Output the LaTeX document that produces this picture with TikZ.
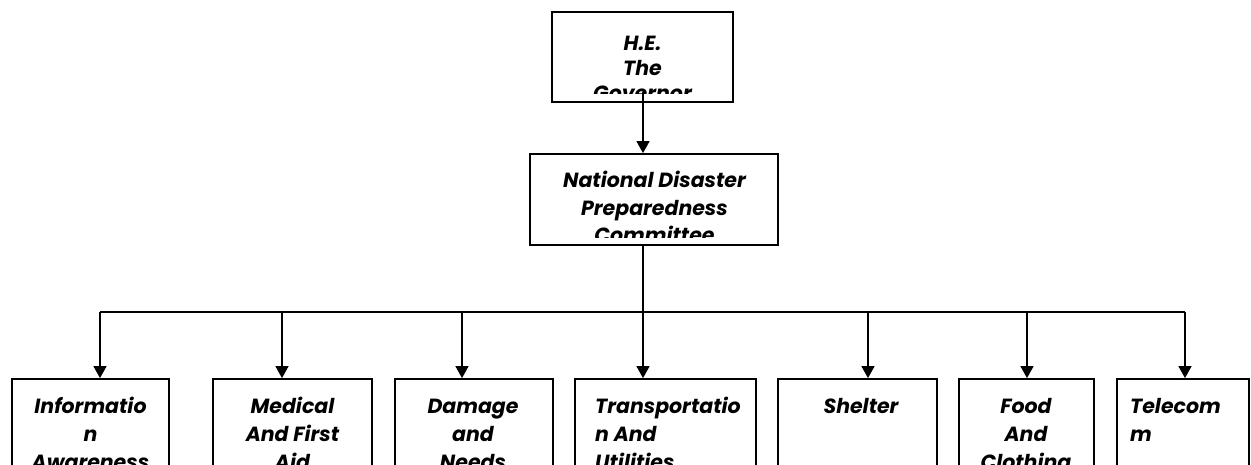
\documentclass[tikz,border=0pt]{standalone}
\usepackage{fontspec}
\setmainfont{Poppins}
\usetikzlibrary{arrows.meta}
\newcommand\firstln{\rule{0pt}{16pt}}
\tikzset{
  box/.style={draw=black, line width=1.8pt, inner sep=0pt, fill=none},
  lbl/.style={inner sep=0pt, font={\fontsize{20.5}{#1}\selectfont\bfseries\itshape}, text=black},
  lbl/.default=27.5,
  conn/.style={draw=black, line width=1.5pt},
  arr/.style={conn, -{Triangle[width=13pt,length=12pt]}}
}
\begin{document}
\begin{tikzpicture}[x=1pt,y=-1pt]
\useasboundingbox (0,0) rectangle (1251,465);
\clip (0,0) rectangle (1251,465);
% boxes
\node[box, minimum width=181pt, minimum height=90pt] (gov) at (642.5,57) {};
\node[box, minimum width=248pt, minimum height=91pt] (ndpc) at (654,199.5) {};
\node[box, minimum width=157pt, minimum height=140pt] (b1) at (90.5,449) {};
\node[box, minimum width=159pt, minimum height=140pt] (b2) at (292.5,449) {};
\node[box, minimum width=158pt, minimum height=140pt] (b3) at (474,449) {};
\node[box, minimum width=181pt, minimum height=140pt] (b4) at (665.5,449) {};
\node[box, minimum width=159pt, minimum height=140pt] (b5) at (857.5,449) {};
\node[box, minimum width=135pt, minimum height=140pt] (b6) at (1026.5,449) {};
\node[box, minimum width=132pt, minimum height=140pt] (b7) at (1183,449) {};
% texts (clipped as in the reference)
\begin{scope}
  \clip ([xshift=1pt,yshift=-1pt]gov.north west) rectangle ([xshift=-1pt,yshift=9pt]gov.south east);
  \node[lbl=25, align=center, anchor=north] (govt) at (642.5,34) {\firstln H.E.\\The\\Governor};
\end{scope}
\begin{scope}
  \clip ([xshift=1pt,yshift=-1pt]ndpc.north west) rectangle ([xshift=-1pt,yshift=8pt]ndpc.south east);
  \node[lbl, align=center, anchor=north] (ndpct) at (654.5,171) {\firstln National Disaster\\Preparedness\\Committee};
\end{scope}
\node[lbl=28, align=center, anchor=north] (t1) at (90.5,397) {\firstln Informatio\\n\\Awareness};
\node[lbl=28, align=center, anchor=north] (t2) at (292.5,397) {\firstln Medical\\And First\\Aid};
\node[lbl=28, align=center, anchor=north] (t3) at (473,397) {\firstln Damage\\and\\Needs};
\node[lbl=28, align=left, anchor=north west] (t4) at (595,397) {\firstln Transportatio\\n And\\Utilities};
\node[lbl=28, align=center, anchor=north] (t5) at (861,397) {\firstln Shelter};
\node[lbl=28, align=center, anchor=north] (t6) at (1026,397) {\firstln Food\\And\\Clothing};
\node[lbl=28, align=left, anchor=north west] (t7) at (1130,397) {\firstln Telecom\\m};
% connectors
\coordinate (g0) at (643,92);
\coordinate (bus) at (643,312);
\draw[arr] (g0) -- (g0 |- ndpc.north);
\draw[conn] (g0 |- ndpc.south) -- (bus);
\coordinate (a1) at (100,312);
\coordinate (a2) at (282,312);
\coordinate (a3) at (462,312);
\coordinate (a4) at (643,312);
\coordinate (a5) at (868,312);
\coordinate (a6) at (1027,312);
\coordinate (a7) at (1185,312);
\draw[conn] (a1) -- (a7);
\draw[arr] (a1) -- (a1 |- b1.north);
\draw[arr] (a2) -- (a2 |- b2.north);
\draw[arr] (a3) -- (a3 |- b3.north);
\draw[arr] (a4) -- (a4 |- b4.north);
\draw[arr] (a5) -- (a5 |- b5.north);
\draw[arr] (a6) -- (a6 |- b6.north);
\draw[arr] (a7) -- (a7 |- b7.north);
\end{tikzpicture}
\end{document}
